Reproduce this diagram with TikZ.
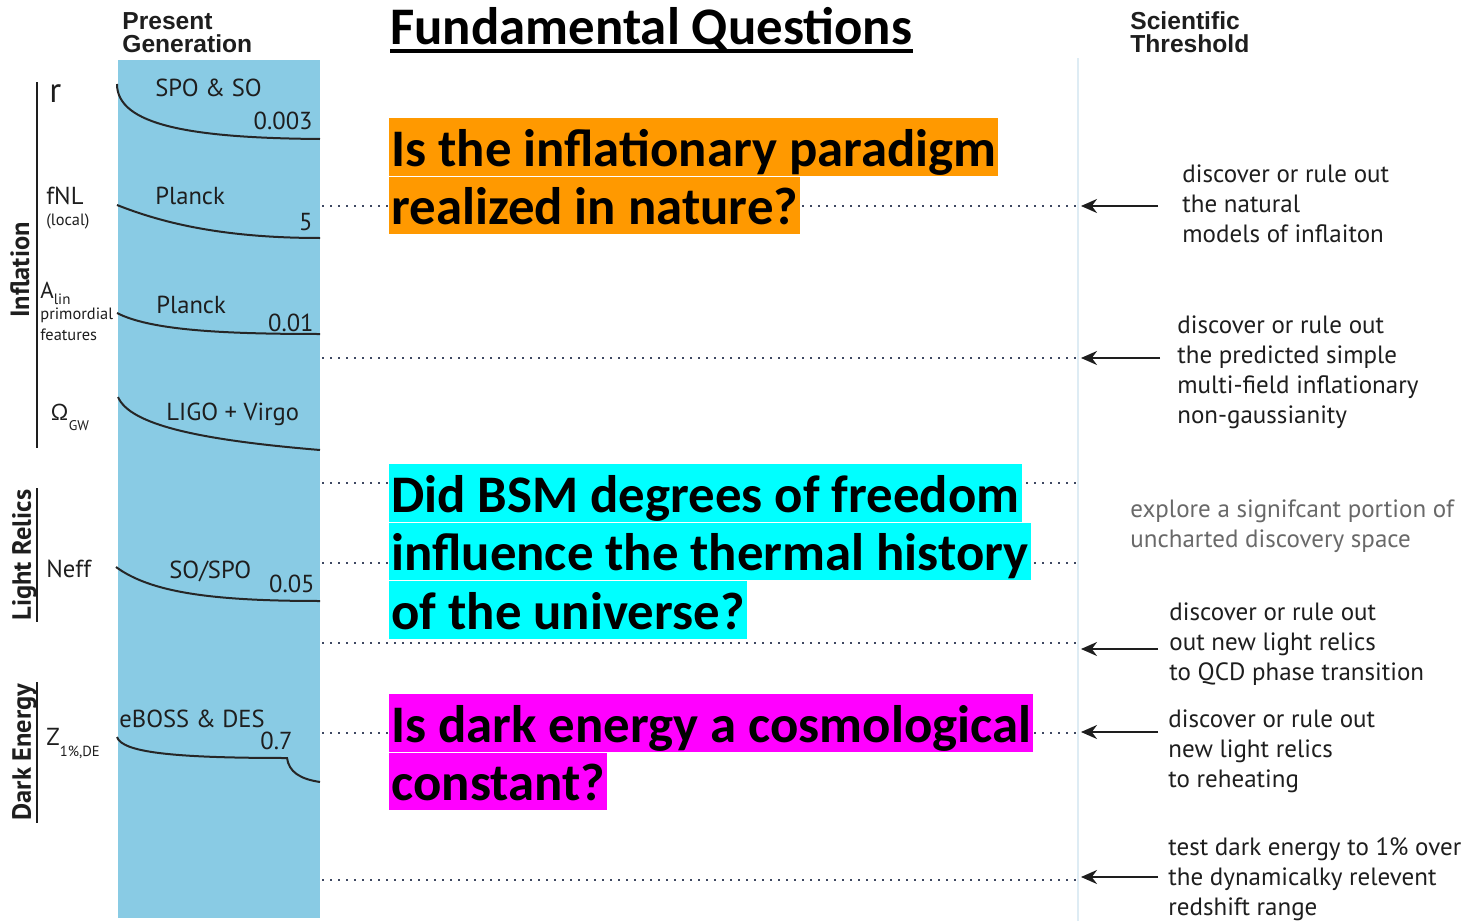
\documentclass[tikz,border=0pt]{standalone}
\usepackage{fontspec}
\setmainfont{PT Sans}
\newfontfamily\qfont{Carlito}
\newfontfamily\hdfont{Liberation Sans}
\usetikzlibrary{arrows.meta,positioning}

\definecolor{panelblue}{RGB}{137,203,228}
\definecolor{qorange}{RGB}{255,153,0}
\definecolor{qcyan}{RGB}{0,255,255}
\definecolor{qmagenta}{RGB}{255,0,255}
\definecolor{dotgray}{RGB}{62,72,98}
\definecolor{ink}{RGB}{30,30,30}
\definecolor{softgray}{RGB}{105,105,105}
\definecolor{thrblue}{RGB}{222,236,244}

\begin{document}
\begin{tikzpicture}[x=0.5pt,y=-0.5pt,>=Stealth,
    lbl/.style={inner sep=0pt,anchor=base west,text=ink,font=\fontsize{12.3}{15}\selectfont},
    val/.style={lbl,anchor=base east},
    small/.style={lbl,font=\fontsize{8.2}{10}\selectfont},
    hd/.style={inner sep=0pt,anchor=base west,align=left,text=ink,
        font=\hdfont\bfseries\fontsize{12.3}{12}\selectfont},
    grp/.style={inner sep=0pt,anchor=base,rotate=90,text=ink,
        font=\bfseries\fontsize{13.2}{15}\selectfont},
    grpline/.style={ink,line width=1pt},
    curve/.style={black!85,line width=1pt},
    guide/.style={dotgray,line width=1pt,dash pattern=on 1pt off 3pt},
    qline/.style={anchor=north west,inner xsep=1pt,inner ysep=0pt,
        text height=24pt,text depth=4.75pt,
        font=\qfont\bfseries\fontsize{26.4}{28.75}\selectfont},
    thrtext/.style={inner sep=0pt,anchor=base west,align=left,text=ink,
        font=\fontsize{12.5}{15}\selectfont},
    arr/.style={->,ink,line width=1pt,
        arrows={-Stealth[length=8pt,width=7pt]}}]

    \fill[white] (0,0) rectangle (1464,921);
    \useasboundingbox (0,0) rectangle (1464,921);

    % === Left: present generation panel ===
    \fill[panelblue] (118,60) rectangle (320,918);
    % (base of a multi-line node = last line)
    \node[hd] (pg) at (122,53) {Present\\Generation};

    % sensitivity curves
    \draw[curve] (117,84) .. controls (117,125) and (190,138) .. (320,139);
    \draw[curve] (117,205) .. controls (160,222) and (220,238) .. (320,238);
    \draw[curve] (117,313) .. controls (150,330) and (220,334) .. (320,334);
    \draw[curve] (118,397) .. controls (130,425) and (200,440) .. (320,450);
    \draw[curve] (116,567) .. controls (150,592) and (210,601) .. (320,601);
    \draw[curve] (117,737) .. controls (122,752) and (170,758) .. (287,758)
        .. controls (289,772) and (300,779) .. (320,782);

    % experiments and current limits
    \node[lbl] (spo) at (155,97) {SPO \& SO};
    \node[val] (vr) at (313,129) {0.003};
    \node[lbl] (pl1) at (155,204) {Planck};
    \node[val] (vf) at (313,230) {5};
    \node[lbl] (pl2) at (156,313) {Planck};
    \node[val] (va) at (314,331) {0.01};
    \node[lbl] (ligo) at (166,420) {LIGO + Virgo};
    \node[lbl] (so) at (169,578) {SO/SPO};
    \node[val] (vn) at (315,592) {0.05};
    \node[lbl] (eboss) at (119,727) {eBOSS \& DES};
    \node[lbl] (vd) at (260,749) {0.7};

    % parameters
    \node[lbl,font=\fontsize{17.5}{20}\selectfont] (pr) at (49,102) {r};
    \node[lbl] (pf) at (46,204) {fNL};
    \node[small] (pfl) at (46,225) {(local)};
    \node[lbl,font=\fontsize{11.5}{14}\selectfont] (pa) at (40,298)
        {A\raisebox{-0.6ex}{\fontsize{7.5}{9}\selectfont lin}};
    \node[small] (pa2) at (40,319) {primordial};
    \node[small] (pa3) at (40,340) {features};
    \node[lbl,font=\fontsize{11.5}{14}\selectfont] (po) at (50,420)
        {Ω\raisebox{-0.9ex}{\fontsize{7}{8}\selectfont GW}};
    \node[lbl] (pn) at (46,577) {Neff};
    \node[lbl] (pz) at (46,745)
        {Z\raisebox{-0.9ex}{\fontsize{7.3}{8}\selectfont 1\%,DE}};

    % groups
    \draw[grpline] (37,82) -- (37,448);
    \draw[grpline] (37,488) -- (37,622);
    \draw[grpline] (37,682) -- (37,823);
    \node[grp] (ginf) at (29,270) {Inflation};
    \node[grp] (grel) at (31,555) {Light Relics};
    \node[grp] (gde) at (31,752) {Dark Energy};

    % === Middle: questions ===
    \foreach \y in {206,358,483,563,643,733,880}
        \draw[guide] (322,\y) -- (1076,\y);

    \node[anchor=base west,inner sep=0pt,
        font=\qfont\bfseries\fontsize{26.4}{30}\selectfont] (title) at (390,45)
        {Fundamental Questions};
    \draw[line width=1.8pt] ([yshift=-3pt]title.base west) -- ([yshift=-3pt]title.base east);

    \node[qline,fill=qorange] (q1a) at (389,118) {Is the inflationary paradigm};
    \node[qline,fill=qorange,below right=0pt and 0pt of q1a.south west] (q1b)
        {realized in nature?};

    \node[qline,fill=qcyan] (q2a) at (389,464) {Did BSM degrees of freedom};
    \node[qline,fill=qcyan,below right=0pt and 0pt of q2a.south west] (q2b)
        {influence the thermal history};
    \node[qline,fill=qcyan,below right=0pt and 0pt of q2b.south west] (q2c)
        {of the universe?};

    \node[qline,fill=qmagenta] (q3a) at (389,694) {Is dark energy a cosmological};
    \node[qline,fill=qmagenta,below right=0pt and 0pt of q3a.south west] (q3b)
        {constant?};

    % === Right: scientific thresholds ===
    \draw[thrblue,line width=0.6pt] (1078,58) -- (1078,921);
    \node[hd] (st) at (1130,53) {Scientific\\Threshold};

    \node[thrtext] (t1) at (1182,242) {discover or rule out\\the natural\\models of inflaiton};
    \node[thrtext] (t2) at (1177,423)
        {discover or rule out\\the predicted simple\\multi-field inflationary\\non-gaussianity};
    \node[thrtext,text=softgray] (t3) at (1130,547)
        {explore a signifcant portion of\\uncharted discovery space};
    \node[thrtext] (t4) at (1169,680)
        {discover or rule out\\out new light relics\\to QCD phase transition};
    \node[thrtext] (t5) at (1168,787) {discover or rule out\\new light relics\\to reheating};
    \node[thrtext] (t6) at (1168,915)
        {test dark energy to 1\% over\\the dynamicalky relevent\\redshift range};

    \foreach \t/\y/\g in {t1/206/24,t2/358/17,t4/649/11,t5/732/10,t6/877/10} {
        \coordinate (hit\t) at (1081,\y);
        \draw[arr] (hit\t -| \t.west) ++(-\g,0) -- (hit\t);
    }
\end{tikzpicture}
\end{document}
